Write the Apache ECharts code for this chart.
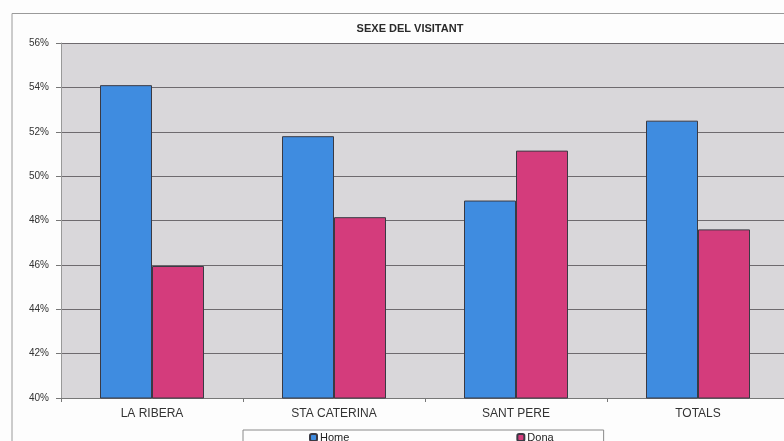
<!DOCTYPE html>
<html>
<head>
<meta charset="utf-8">
<script src="https://cdn.jsdelivr.net/npm/echarts@6/dist/echarts.min.js"></script>
<style>
  html, body { margin: 0; padding: 0; background: #fdfdfd; overflow: hidden; }
  #chart { width: 800px; height: 441px; }
</style>
</head>
<body>
<div id="chart"></div>
<script>
// dades llegides del gràfic
let categories = ['LA RIBERA', 'STA CATERINA', 'SANT PERE', 'TOTALS']
let home = [54.1, 51.8, 48.9, 52.5]
let dona = [45.95, 48.15, 51.15, 47.6]
let yTicks = [40, 42, 44, 46, 48, 50, 52, 54, 56]

let myChart = echarts.init(document.getElementById('chart'))
myChart.setOption({
    backgroundColor: '#fdfdfd',
    animation: false,
    textStyle: {
        fontFamily: 'Liberation Sans, Arial, sans-serif'
    },
    title: {
        text: 'SEXE DEL VISITANT',
        left: 405,
        textAlign: 'center',
        top: 18,
        textStyle: {
            fontSize: 11,
            fontWeight: 'bold',
            color: '#2a2a2a'
        }
    },
    graphic: [
        { // marc exterior
            type: 'polyline',
            shape: { points: [[12, 441], [12, 13.5], [800, 13.5]] },
            style: { stroke: '#9a9a9a', lineWidth: 1, fill: null },
            silent: true
        }
    ],
    legend: {
        data: ['Home', 'Dona'],
        left: 243,
        top: 430,
        padding: [2, 50, 12, 66],
        itemGap: 167,
        itemWidth: 7,
        itemHeight: 7,
        borderColor: '#8a8a8a',
        borderWidth: 1,
        borderRadius: 0,
        backgroundColor: '#fdfdfd',
        textStyle: { fontSize: 11, color: '#222', padding: [0, 0, 0, -2] }
    },
    grid: {
        left: 61,
        top: 43,
        width: 728,
        height: 355,
        show: true,
        backgroundColor: '#d9d7da',
        borderWidth: 0
    },
    xAxis: {
        type: 'category',
        data: categories,
        axisLine: { lineStyle: { color: '#777', width: 1 } },
        axisTick: { show: true, length: 4, lineStyle: { color: '#777' } },
        axisLabel: { fontSize: 12, color: '#333', margin: 10 }
    },
    yAxis: {
        type: 'value',
        min: yTicks[0],
        max: yTicks[yTicks.length - 1],
        interval: 2,
        axisLine: { show: true, lineStyle: { color: '#999', width: 1 } },
        axisTick: { show: true, length: 5, lineStyle: { color: '#777' } },
        axisLabel: {
            fontSize: 10,
            color: '#333',
            margin: 12,
            formatter: '{value}%'
        },
        splitLine: { show: true, lineStyle: { color: '#6e6a6e', width: 1 } }
    },
    series: [
        {
            name: 'Home',
            type: 'bar',
            data: home,
            barWidth: 52,
            barGap: '0%',
            itemStyle: { color: '#3f8ce0', borderColor: '#3a3a44', borderWidth: 1 }
        },
        {
            name: 'Dona',
            type: 'bar',
            data: dona,
            barWidth: 52,
            itemStyle: { color: '#d43c7c', borderColor: '#3a3a44', borderWidth: 1 }
        }
    ]
})
window.addEventListener('resize', function () {
    myChart.resize()
})
</script>
</body>
</html>
